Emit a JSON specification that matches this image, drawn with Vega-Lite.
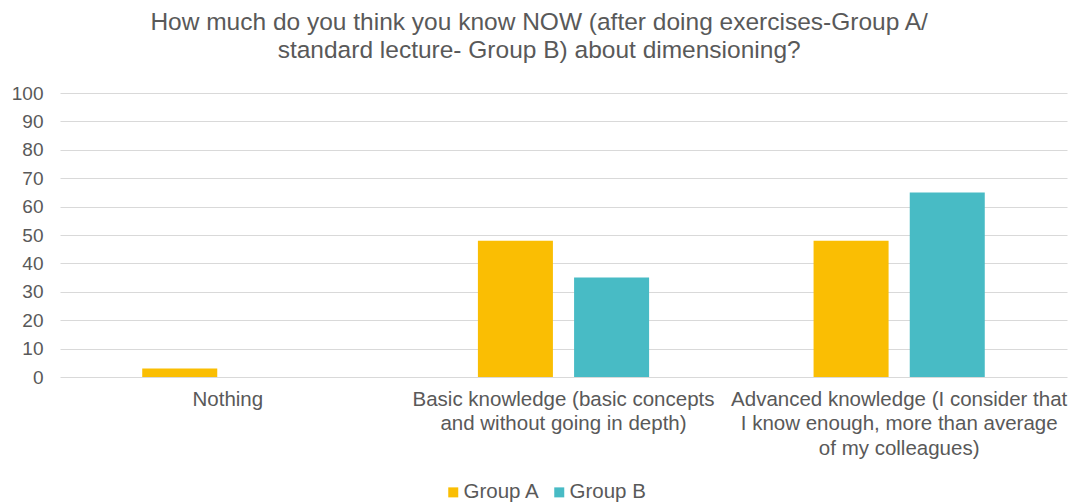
{
  "$schema": "https://vega.github.io/schema/vega-lite/v6.json",
  "width": 1007,
  "height": 284,
  "autosize": {"type": "none"},
  "padding": {"left": 60, "top": 93, "right": 5, "bottom": 127},
  "background": "white",
  "config": {
    "font": "Liberation Sans",
    "view": {"stroke": null},
    "axis": {"labelColor": "#595959", "labelFont": "Liberation Sans", "labelFontSize": 16, "titleColor": "#595959"}
  },
  "title": {
    "text": ["How much do you think you know NOW (after doing exercises-Group A/", "standard lecture- Group B) about dimensioning?"],
    "fontSize": 24.5,
    "fontWeight": "normal",
    "color": "#595959",
    "lineHeight": 28,
    "anchor": "middle",
    "frame": "bounds",
    "offset": 21
  },
  "data": {
    "values": [
      {"level": "Nothing", "group": "Group A", "percent": 3},
      {"level": "Nothing", "group": "Group B", "percent": 0},
      {"level": "Basic knowledge (basic concepts and without going in depth)", "group": "Group A", "percent": 48},
      {"level": "Basic knowledge (basic concepts and without going in depth)", "group": "Group B", "percent": 35},
      {"level": "Advanced knowledge (I consider that I know enough, more than average of my colleagues)", "group": "Group A", "percent": 48},
      {"level": "Advanced knowledge (I consider that I know enough, more than average of my colleagues)", "group": "Group B", "percent": 65}
    ]
  },
  "mark": {"type": "bar"},
  "encoding": {
    "x": {
      "field": "level",
      "type": "nominal",
      "sort": null,
      "scale": {"paddingInner": 0, "paddingOuter": 0},
      "axis": {
        "title": null,
        "labelAngle": 0,
        "domain": false,
        "ticks": false,
        "labelFontSize": 20.5,
        "labelPadding": 12,
        "labelLimit": 0,
        "labelLineHeight": 24.5,
        "labelBaseline": "top",
        "labelExpr": "datum.label == 'Nothing' ? 'Nothing' : (indexof(datum.label, 'Basic') == 0 ? ['Basic knowledge (basic concepts', 'and without going in depth)'] : ['Advanced knowledge (I consider that', 'I know enough, more than average', 'of my colleagues)'])"
      }
    },
    "xOffset": {
      "field": "group",
      "type": "nominal",
      "scale": {"paddingInner": 0.22, "paddingOuter": 0.855}
    },
    "y": {
      "field": "percent",
      "type": "quantitative",
      "scale": {"domain": [0, 100], "nice": false},
      "axis": {
        "title": null,
        "values": [0, 10, 20, 30, 40, 50, 60, 70, 80, 90, 100],
        "domain": false,
        "ticks": false,
        "labelFontSize": 19,
        "labelPadding": 17,
        "gridColor": "#d9d9d9",
        "gridWidth": 1
      }
    },
    "color": {
      "field": "group",
      "type": "nominal",
      "scale": {"domain": ["Group A", "Group B"], "range": ["#FABE03", "#48BBC5"]},
      "legend": {
        "title": null,
        "orient": "none",
        "legendX": 383,
        "legendY": 389,
        "direction": "horizontal",
        "symbolType": "square",
        "symbolSize": 100,
        "symbolStrokeWidth": 0,
        "labelFontSize": 20.5,
        "labelOffset": 0,
        "labelColor": "#595959",
        "labelFont": "Liberation Sans",
        "columnPadding": 9
      }
    }
  }
}
